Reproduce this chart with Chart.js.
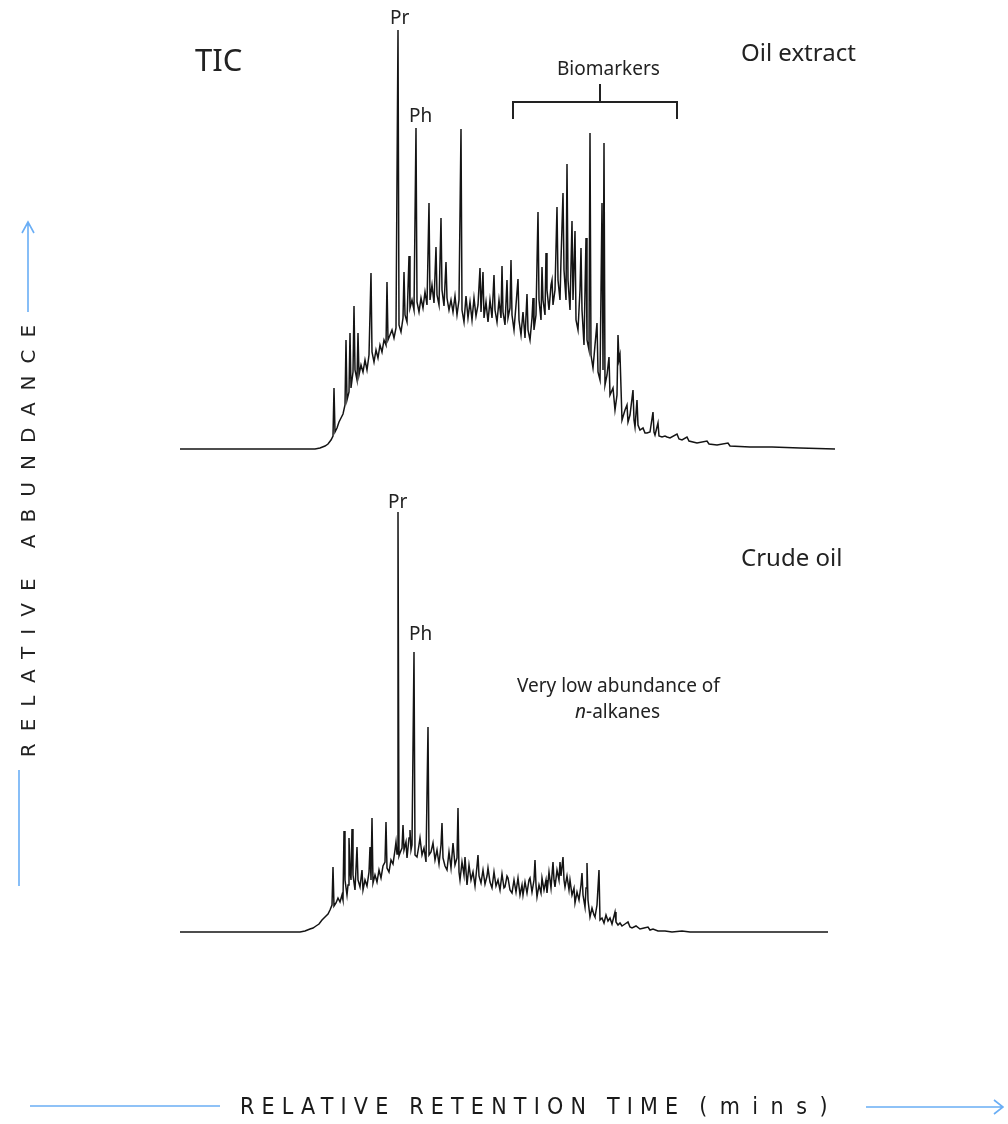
<!DOCTYPE html>
<html>
<head>
<meta charset="utf-8">
<script src="https://cdn.jsdelivr.net/npm/chart.js@4.4.1/dist/chart.umd.min.js"></script>
<style>
  html, body { margin: 0; padding: 0; background: #fff; }
  body { width: 1008px; height: 1124px; position: relative; overflow: hidden; font-family: "Noto Sans", "Open Sans", sans-serif; color: #222; }
  .lbl { position: absolute; white-space: nowrap; line-height: 1; }
  canvas { position: absolute; }
  svg { position: absolute; left: 0; top: 0; }
</style>
</head>
<body>
<canvas id="oil" width="680" height="440" style="left:170px;top:20px;width:680px;height:440px"></canvas>
<canvas id="crude" width="680" height="440" style="left:170px;top:503px;width:680px;height:440px"></canvas>

<svg width="1008" height="1124">
  <!-- Biomarkers bracket -->
  <path d="M513 119 V102 H677 V119 M600 102 V84" fill="none" stroke="#222" stroke-width="2"/>
  <!-- y axis arrow -->
  <path d="M28 312 V222 M22 233 L28 222 L34 233" fill="none" stroke="#6aaef5" stroke-width="1.6"/>
  <path d="M19 770 V886" fill="none" stroke="#6aaef5" stroke-width="1.6"/>
  <!-- x axis arrow -->
  <path d="M30 1106 H220" fill="none" stroke="#6aaef5" stroke-width="1.6"/>
  <path d="M866 1107 H1003 M994 1100 L1003 1107 L994 1114" fill="none" stroke="#6aaef5" stroke-width="1.6"/>
</svg>

<div class="lbl" style="left:195px;top:44px;font-size:31px;">TIC</div>
<div class="lbl" style="left:741px;top:40px;font-size:24px;">Oil extract</div>
<div class="lbl" style="left:741px;top:545px;font-size:24px;">Crude oil</div>
<div class="lbl" style="left:390px;top:8px;font-size:19px;">Pr</div>
<div class="lbl" style="left:409px;top:106px;font-size:19px;">Ph</div>
<div class="lbl" style="left:388px;top:492px;font-size:19px;">Pr</div>
<div class="lbl" style="left:409px;top:624px;font-size:19px;">Ph</div>
<div class="lbl" style="left:557px;top:59px;font-size:19px;">Biomarkers</div>
<div class="lbl" style="left:517px;top:676px;font-size:19px;">Very low abundance of</div>
<div class="lbl" style="left:575px;top:702px;font-size:19px;"><i>n</i>-alkanes</div>
<div class="lbl" style="left:240px;top:1095px;font-size:23px;letter-spacing:7.2px;font-family:'Liberation Sans Narrow','DejaVu Sans Condensed',sans-serif;color:#1a1a1a;">RELATIVE RETENTION TIME <span style="letter-spacing:12.5px">(mins)</span></div>
<div class="lbl" id="ytitle" style="left:28px;top:535px;font-size:20px;letter-spacing:12px;font-family:'DejaVu Sans','Liberation Sans',sans-serif;font-weight:normal;color:#222;transform:translate(-50%,-50%) rotate(-90deg);">RELATIVE ABUNDANCE</div>

<script>
// Oil extract (top) – relative retention (arbitrary units) and relative abundance
const oilTime = [0,120,135,140,145,148,151,153,154,155,157,159,161,163,165,166,167,169,170,171,173,174,175,177,178,179,181,183,185,187,189,191,192,194,196,198,200,202,204,206,207,208,210,212,214,216,218,219,221,223,224,225,227,229,230,232,234,236,237,239,241,243,245,247,249,250,252,254,256,257,259,261,262,264,266,267,269,271,273,275,277,279,281,282,284,286,288,290,292,294,296,298,300,301,303,304,306,308,310,312,314,315,317,319,321,322,323,325,327,328,330,331,332,334,336,338,339,341,343,345,347,348,350,352,353,354,356,358,359,361,362,363,365,366,367,369,371,372,373,375,377,378,380,381,383,384,386,387,388,390,392,393,395,396,398,400,401,402,404,406,407,409,410,411,413,415,417,418,420,422,423,424,425,427,429,430,433,435,437,438,439,440,442,445,447,448,450,453,454,455,457,458,460,463,465,467,470,473,474,475,478,479,482,485,487,490,497,499,502,507,509,517,527,529,537,548,550,570,592,620,655];
const oilAbundance = [0,0,0,1,3,5,9,13,61,17,21,27,31,35,44,109,49,57,116,61,77,143,79,69,116,74,84,77,89,79,94,176,97,87,99,91,104,97,109,104,167,109,114,119,111,121,419,124,117,131,177,134,127,193,141,149,139,321,147,137,151,141,157,144,246,149,164,146,202,154,144,231,159,143,187,151,139,149,137,153,134,149,320,139,127,153,131,147,129,151,133,144,181,137,177,131,147,127,149,131,174,139,127,149,131,183,137,124,169,131,141,189,134,119,144,170,129,114,137,111,155,119,109,131,151,119,134,237,149,129,182,149,134,196,159,139,164,169,144,159,242,169,149,189,256,179,149,285,169,139,228,149,218,129,119,159,201,139,104,211,109,99,316,94,81,104,126,77,69,246,79,306,64,74,92,54,61,39,54,114,89,94,29,39,44,27,34,59,29,22,49,24,19,21,16,16,17,37,17,14,26,13,12,13,12,11,15,10,9,12,8,6,8,5,4,6,3,2,2,1,0];

// Crude oil (bottom)
const crudeTime = [0,120,125,130,133,136,139,142,145,148,150,152,153,154,156,158,160,162,163,164,165,167,168,169,170,171,172,173,175,177,178,180,182,183,185,187,189,190,191,192,193,195,197,199,201,203,205,206,207,209,211,213,215,216,217,218,219,220,222,223,224,226,227,229,230,231,232,234,235,237,239,240,242,244,246,248,249,251,253,255,257,259,261,262,263,265,267,269,271,273,275,277,278,279,280,282,284,285,287,289,291,293,295,297,298,299,301,303,305,307,308,310,312,314,316,318,320,322,324,325,327,328,330,332,334,336,338,340,342,343,345,347,349,350,352,354,355,356,357,359,361,362,364,366,367,369,371,373,374,375,377,379,380,381,383,384,385,387,389,390,392,394,395,397,399,401,402,403,405,406,407,408,410,412,414,415,417,419,420,422,424,426,428,430,432,434,435,436,438,440,442,445,448,450,452,456,460,464,468,470,473,478,485,492,502,510,648];
const crudeAbundance = [0,0,1,3,4,6,8,12,15,18,22,27,65,26,29,34,30,37,32,101,52,37,47,94,62,52,103,57,42,85,52,45,62,42,52,46,60,85,52,114,49,57,50,62,54,66,70,110,64,60,72,68,82,90,78,420,76,79,84,107,82,90,74,94,102,82,87,280,77,75,87,94,77,84,70,205,77,80,89,72,82,68,87,109,74,66,62,80,64,89,67,74,124,60,52,70,57,75,47,67,52,60,46,66,77,56,49,62,48,56,64,50,44,60,46,52,42,58,44,45,56,54,42,39,52,40,54,37,47,37,50,39,52,54,40,52,72,47,35,47,39,54,42,52,39,60,44,70,52,45,62,52,70,56,75,52,45,56,42,52,37,44,29,40,32,47,59,37,25,44,69,32,15,24,17,15,27,62,12,14,9,17,11,14,8,16,20,10,7,9,6,8,10,5,4,6,3,4,5,2,3,1,1,0,1,0,0];

const timeRange = [0, 655];
const abundanceRange = [0, 420];

function makeChart(id, times, values) {
  const pts = times.map((t, i) => ({ x: t, y: values[i] }));
  return new Chart(document.getElementById(id), {
    type: 'line',
    data: { datasets: [{ data: pts, borderColor: '#141414', borderWidth: 1.5, pointRadius: 0, tension: 0, fill: false, clip: false }] },
    options: {
      responsive: false, animation: false, devicePixelRatio: 1,
      layout: { padding: { left: 10, right: 15, top: 9, bottom: 11 } },
      plugins: { legend: { display: false }, tooltip: { enabled: false } },
      scales: {
        x: { type: 'linear', min: timeRange[0], max: timeRange[1], display: false },
        y: { min: abundanceRange[0], max: abundanceRange[1], display: false }
      }
    }
  });
}
makeChart('oil', oilTime, oilAbundance);
makeChart('crude', crudeTime, crudeAbundance);
</script>
</body>
</html>
